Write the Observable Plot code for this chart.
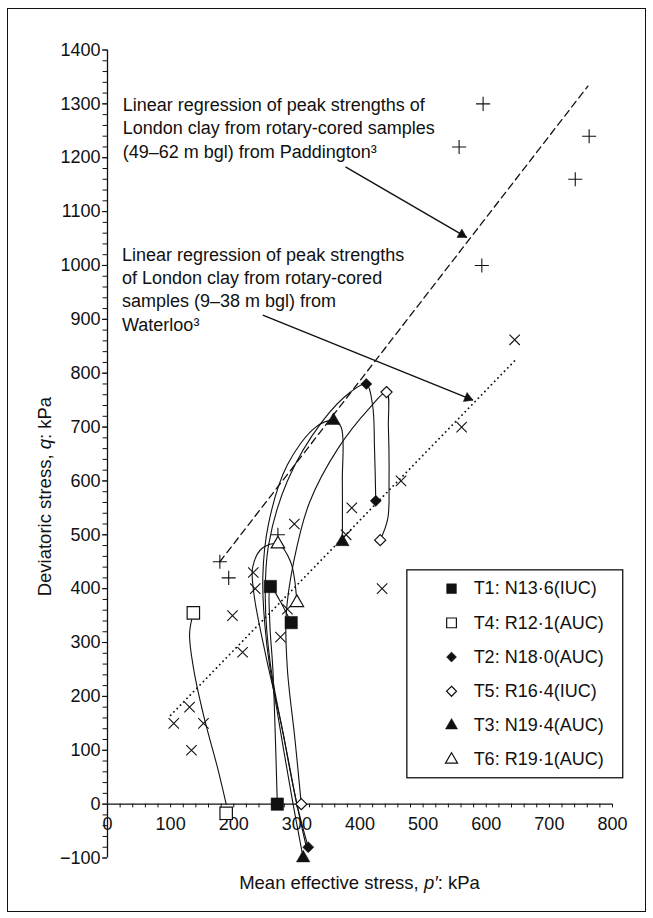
<!DOCTYPE html>
<html>
<head>
<meta charset="utf-8">
<script src="https://cdn.jsdelivr.net/npm/d3@7"></script>
<script src="https://cdn.jsdelivr.net/npm/@observablehq/plot@0.6"></script>
<style>
  body { margin: 0; background: #fff; }
  #wrap { position: relative; width: 653px; height: 918px; }
  #frame { position: absolute; left: 7px; top: 8px; width: 639px; height: 904px; border: 1.5px solid #111; box-sizing: border-box; pointer-events: none; }
  #wrap svg { position: absolute; left: 0; top: 0; font-family: "Liberation Sans", Arial, Helvetica, sans-serif; }
</style>
</head>
<body>
<div id="wrap"><div id="frame"></div></div>
<script>
// ---------- data ----------
const xTicks = [0, 100, 200, 300, 400, 500, 600, 700, 800];
const yTicks = [-100, 0, 100, 200, 300, 400, 500, 600, 700, 800, 900, 1000, 1100, 1200, 1300, 1400];

// Paddington peak strengths (+)
const paddingtonP = [178, 192, 270, 557, 593, 595, 741, 763];
const paddingtonQ = [450, 420, 500, 1220, 1000, 1300, 1160, 1240];
// Waterloo peak strengths (x)
const waterlooP = [105, 130, 133, 152, 198, 214, 231, 234, 274, 285, 296, 378, 387, 435, 465, 561, 645];
const waterlooQ = [150, 180, 100, 150, 350, 282, 430, 400, 310, 362, 520, 500, 550, 400, 600, 700, 862];
// regression lines
const paddingtonLineP = [178, 761];
const paddingtonLineQ = [450, 1333];
const waterlooLineP = [100, 645];
const waterlooLineQ = [165, 823];

// stress paths
const T1p = [269, 266, 262, 257, 258, 272, 291];
const T1q = [0, 120, 250, 340, 404, 380, 337];
const T4p = [188, 174, 153, 136, 130, 136];
const T4q = [0, 69, 161, 254, 316, 355];
const T2p = [318, 300, 280, 258, 250, 255, 285, 340, 385, 410, 420, 423, 425];
const T2q = [-80, 0, 120, 260, 380, 480, 600, 710, 765, 780, 740, 660, 563];
const T5p = [307, 297, 285, 283, 295, 320, 365, 415, 442, 445, 446, 444, 432];
const T5q = [0, 120, 250, 350, 450, 560, 660, 735, 765, 700, 600, 530, 490];
const T3p = [310, 294, 272, 252, 246, 255, 285, 330, 358, 370, 372, 372];
const T3q = [-100, 0, 150, 300, 420, 520, 630, 700, 712, 700, 600, 487];
const T6p = [315, 300, 275, 250, 232, 230, 245, 270, 290, 300];
const T6q = [-80, 0, 150, 280, 390, 440, 475, 483, 450, 374];

// markers on the paths
const T1markP = [269, 258, 291];
const T1markQ = [0, 404, 337];
const T4markP = [188, 136];
const T4markQ = [-17, 355];
const T2markP = [318, 410, 425];
const T2markQ = [-80, 780, 563];
const T5markP = [307, 442, 432];
const T5markQ = [0, 765, 490];
const T3markP = [310, 358, 372];
const T3markQ = [-100, 712, 487];
const T6markP = [270, 300];
const T6markQ = [483, 374];

const testNames = ["T1: N13·6(IUC)", "T4: R12·1(AUC)", "T2: N18·0(AUC)", "T5: R16·4(IUC)", "T3: N19·4(AUC)", "T6: R19·1(AUC)"];
const testSymbols = ["square", "square", "diamond2", "diamond2", "triangle", "triangle"];
const testFilled = [true, false, true, false, true, false];

const annotationPaddington = "Linear regression of peak strengths of\nLondon clay from rotary-cored samples\n(49–62 m bgl) from Paddington³";
const annotationWaterloo = "Linear regression of peak strengths\nof London clay from rotary-cored\nsamples (9–38 m bgl) from\nWaterloo³";
// arrows: [p1, q1, p2, q2]
const arrowPaddington = [377, 1183, 569, 1052];
const arrowWaterloo = [246, 908, 579, 750];

// ---------- layout ----------
const W = 653, H = 918;
const mL = 107, mR = 41, mT = 49.5, mB = 60.5;
const kx = (W - mL - mR) / 800, ky = (H - mT - mB) / 1500;

const zip = (P, Q) => P.map((p, i) => ({p, q: Q[i]}));
const FONT = 18;
const ink = "#111";
const fmt = d => (d < 0 ? "\u2212" + Math.abs(d) : String(d));

function pathMark(P, Q) {
  return Plot.line(zip(P, Q), {x: "p", y: "q", curve: "catmull-rom", stroke: ink, strokeWidth: 1.1});
}
function markerMark(P, Q, idx) {
  const filled = testFilled[idx];
  const sym = testSymbols[idx];
  const r = sym === "square" ? 7 : 5;
  return Plot.dot(zip(P, Q), {x: "p", y: "q", symbol: sym, r, fill: filled ? ink : "white", stroke: ink, strokeWidth: filled ? 0.5 : 1.2});
}
function arrowHead(a) {
  const dxp = (a[2] - a[0]) * kx, dyp = -(a[3] - a[1]) * ky;
  const L = Math.hypot(dxp, dyp), ux = dxp / L, uy = dyp / L;
  const r = 3.6, yy = Math.sqrt(Math.PI * r * r / (Math.sqrt(3) * 3));
  const ang = Math.atan2(dxp, -dyp) * 180 / Math.PI;
  return Plot.dot([{p: a[2], q: a[3]}], {x: "p", y: "q", symbol: "triangle", r, rotate: ang, fill: ink, stroke: ink, strokeWidth: 0.5, dx: -2 * yy * ux, dy: -2 * yy * uy});
}

const xMinor = d3.range(0, 801, 20);
const yMinor = d3.range(-100, 1401, 20);

// legend layout (in data units)
const legX = 545, legTextX = 580, legY0 = 400, legStep = 63.5;
const legendItems = testNames.map((name, i) => ({name, i, p: legX, q: legY0 - i * legStep}));

const plot = Plot.plot({
  width: W, height: H,
  marginLeft: mL, marginRight: mR, marginTop: mT, marginBottom: mB,
  style: {fontFamily: '"Liberation Sans", Arial, Helvetica, sans-serif', fontSize: FONT + "px", color: ink, background: "transparent"},
  x: {domain: [0, 800], axis: null},
  y: {domain: [-100, 1400], axis: null},
  marks: [
    // y axis
    Plot.ruleX([0], {y1: -100, y2: 1400, stroke: ink, strokeWidth: 1.3}),
    Plot.ruleY(yMinor, {x1: 0, x2: -7, stroke: ink, strokeWidth: 1}),
    Plot.axisY({ticks: yTicks, tickSize: 5, tickPadding: 2, tickFormat: fmt, fontSize: FONT, label: null, stroke: ink}),
    // x axis drawn at q = 0
    Plot.ruleY([0], {x1: 0, x2: 800, stroke: ink, strokeWidth: 1.3}),
    Plot.ruleX(xMinor, {y1: 0, y2: -7, stroke: ink, strokeWidth: 1}),
    Plot.text(xTicks, {x: d => d, y: 0, dy: 20, text: fmt, fontSize: FONT, fill: ink}),
    // regression lines
    Plot.line(zip(paddingtonLineP, paddingtonLineQ), {x: "p", y: "q", stroke: ink, strokeWidth: 1.3, strokeDasharray: "7,4.5"}),
    Plot.line(zip(waterlooLineP, waterlooLineQ), {x: "p", y: "q", stroke: ink, strokeWidth: 1.8, strokeDasharray: "0.1,4.6", strokeLinecap: "round"}),
    // data points
    Plot.dot(zip(paddingtonP, paddingtonQ), {x: "p", y: "q", symbol: "plus", r: 4.6, stroke: ink, strokeWidth: 1.1}),
    Plot.dot(zip(waterlooP, waterlooQ), {x: "p", y: "q", symbol: "times", r: 4.8, stroke: ink, strokeWidth: 1.1}),
    // stress paths
    pathMark(T1p, T1q), pathMark(T4p, T4q), pathMark(T2p, T2q), pathMark(T5p, T5q), pathMark(T3p, T3q), pathMark(T6p, T6q),
    markerMark(T1markP, T1markQ, 0), markerMark(T4markP, T4markQ, 1), markerMark(T2markP, T2markQ, 2),
    markerMark(T5markP, T5markQ, 3), markerMark(T3markP, T3markQ, 4), markerMark(T6markP, T6markQ, 5),
    // annotations
    Plot.text([annotationPaddington], {x: 24, y: 1318, text: d => d, textAnchor: "start", lineAnchor: "top", lineHeight: 1.3, fontSize: FONT, fill: ink}),
    Plot.text([annotationWaterloo], {x: 23, y: 1040, text: d => d, textAnchor: "start", lineAnchor: "top", lineHeight: 1.3, fontSize: FONT, fill: ink}),
    Plot.link([arrowPaddington], {x1: d => d[0], y1: d => d[1], x2: d => d[2], y2: d => d[3], stroke: ink, strokeWidth: 1.4}),
    Plot.link([arrowWaterloo], {x1: d => d[0], y1: d => d[1], x2: d => d[2], y2: d => d[3], stroke: ink, strokeWidth: 1.4}),
    arrowHead(arrowPaddington), arrowHead(arrowWaterloo),
    // legend
    Plot.rect([0], {x1: 475, x2: 817, y1: 48, y2: 434, fill: "white", stroke: ink, strokeWidth: 1.3}),
    ...legendItems.map(d => Plot.dot([d], {x: "p", y: "q", symbol: testSymbols[d.i], r: testSymbols[d.i] === "square" ? 5.5 : 4.5, fill: testFilled[d.i] ? ink : "white", stroke: ink, strokeWidth: testFilled[d.i] ? 0.5 : 1.2})),
    Plot.text(legendItems, {x: legTextX, y: "q", text: "name", textAnchor: "start", fontSize: FONT, fill: ink})
  ]
});

const wrap = document.getElementById("wrap");
wrap.insertBefore(plot, wrap.firstChild);

// axis titles with italic symbols
const svg = d3.select(plot);
const sx = plot.scale("x"), sy = plot.scale("y");
const xl = svg.append("text").attr("x", sx.apply(400)).attr("y", 889).attr("text-anchor", "middle")
  .attr("font-size", FONT + 0.5).attr("fill", ink);
xl.append("tspan").text("Mean effective stress, ");
xl.append("tspan").attr("font-style", "italic").text("p′");
xl.append("tspan").text(": kPa");
const yl = svg.append("text").attr("transform", `translate(51,${sy.apply(570)}) rotate(-90)`).attr("text-anchor", "middle")
  .attr("font-size", FONT + 0.5).attr("fill", ink);
yl.append("tspan").text("Deviatoric stress, ");
yl.append("tspan").attr("font-style", "italic").text("q");
yl.append("tspan").text(": kPa");
</script>
</body>
</html>
